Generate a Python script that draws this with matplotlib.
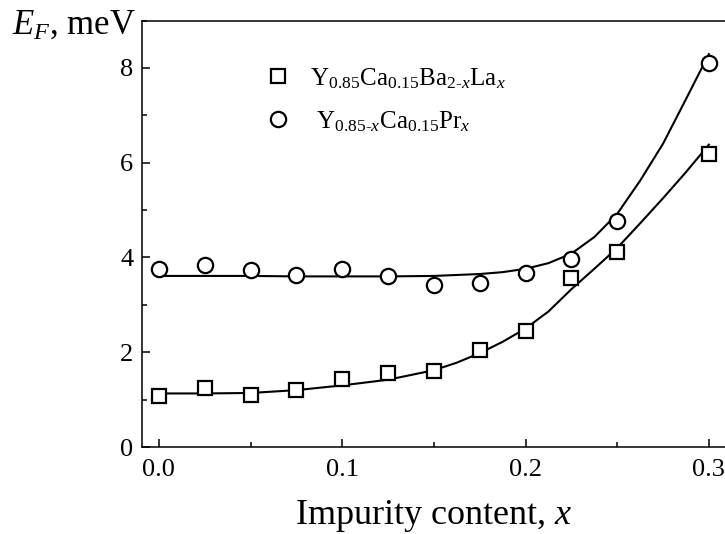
import matplotlib
matplotlib.use("Agg")
import matplotlib.pyplot as plt
from matplotlib.ticker import MultipleLocator, FormatStrFormatter

plt.rcParams['font.family'] = ['Liberation Serif', 'DejaVu Serif']
plt.rcParams['mathtext.fontset'] = 'custom'
plt.rcParams['mathtext.rm'] = 'Liberation Serif'
plt.rcParams['mathtext.it'] = 'Liberation Serif:italic'
plt.rcParams['mathtext.bf'] = 'Liberation Serif:bold'

# ---- data: measured points ----
x_pts = [0.0, 0.025, 0.05, 0.075, 0.1, 0.125, 0.15, 0.175, 0.2, 0.225, 0.25, 0.3]
ba_la = [1.07, 1.24, 1.10, 1.20, 1.43, 1.56, 1.60, 2.05, 2.44, 3.57, 4.11, 6.18]
pr = [3.76, 3.85, 3.73, 3.64, 3.76, 3.60, 3.41, 3.46, 3.67, 3.97, 4.76, 8.10]

# ---- fitted curves ----
x_fit = [0.0, 0.025, 0.05, 0.075, 0.1, 0.125, 0.15, 0.1625, 0.175, 0.1875, 0.2,
         0.2125, 0.225, 0.2375, 0.25, 0.2625, 0.275, 0.2875, 0.3]
ba_la_fit = [1.13, 1.13, 1.14, 1.20, 1.30, 1.42, 1.62, 1.78, 1.98, 2.22, 2.50,
             2.86, 3.33, 3.76, 4.20, 4.72, 5.25, 5.80, 6.38]
pr_fit = [3.61, 3.61, 3.61, 3.60, 3.60, 3.60, 3.61, 3.63, 3.65, 3.69, 3.76,
          3.88, 4.08, 4.43, 4.92, 5.62, 6.40, 7.34, 8.29]

label_ba = r"Y$_{0.85}$Ca$_{0.15}$Ba$_{\text{2-}x}$La$_{x}$"
label_pr = " " + r"Y$_{\text{0.85-}x}$Ca$_{0.15}$Pr$_{x}$"

W, H = 725, 534
fig = plt.figure(figsize=(W / 100, H / 100), dpi=100)
ax = fig.add_axes([141.5 / W, 1 - 447 / H, 1 - 141.5 / W, (447 - 20.5) / H])

ax.plot(x_fit, ba_la_fit, color='black', lw=1.5, zorder=2)
ax.plot(x_fit, pr_fit, color='black', lw=1.5, zorder=2)
h1, = ax.plot(x_pts, ba_la, linestyle='none', marker='s', ms=10, mfc='white',
              mec='black', mew=1.6, zorder=3, label=label_ba)
h2, = ax.plot(x_pts, pr, linestyle='none', marker='o', ms=11, mfc='white',
              mec='black', mew=1.6, zorder=3, label=label_pr)

ax.set_xlim(-0.0095, 0.3088)
ax.set_ylim(0, 9)
ax.xaxis.set_major_locator(MultipleLocator(0.1))
ax.xaxis.set_minor_locator(MultipleLocator(0.05))
ax.yaxis.set_major_locator(MultipleLocator(2))
ax.yaxis.set_minor_locator(MultipleLocator(1))
ax.xaxis.set_major_formatter(FormatStrFormatter('%.1f'))
ax.tick_params(which='both', direction='in', top=False, right=False,
               width=1.1, labelsize=19)
ax.tick_params(which='major', length=6)
ax.tick_params(which='minor', length=3.3)
ax.tick_params(axis='x', pad=9)
ax.tick_params(axis='y', pad=6)
for s in ['left', 'bottom', 'top']:
    ax.spines[s].set_linewidth(1.1)
ax.spines['right'].set_visible(False)

ax.legend(handles=[h1, h2], loc='upper left', bbox_to_anchor=(0.221, 0.893),
          frameon=False, fontsize=18, handlelength=0.6, handletextpad=1.0,
          labelspacing=0.73, borderpad=0, borderaxespad=0)

ax.set_xlabel("Impurity content, $x$", fontsize=26, va='baseline')
ax.xaxis.set_label_coords((434 - 141.5) / 583.5, (447 - 524) / 426.5)
fig.text(12 / W, 1 - 33.5 / H, r"$E_F$, meV", fontsize=25, va='baseline', ha='left')

fig.savefig("out.png", dpi=100)
